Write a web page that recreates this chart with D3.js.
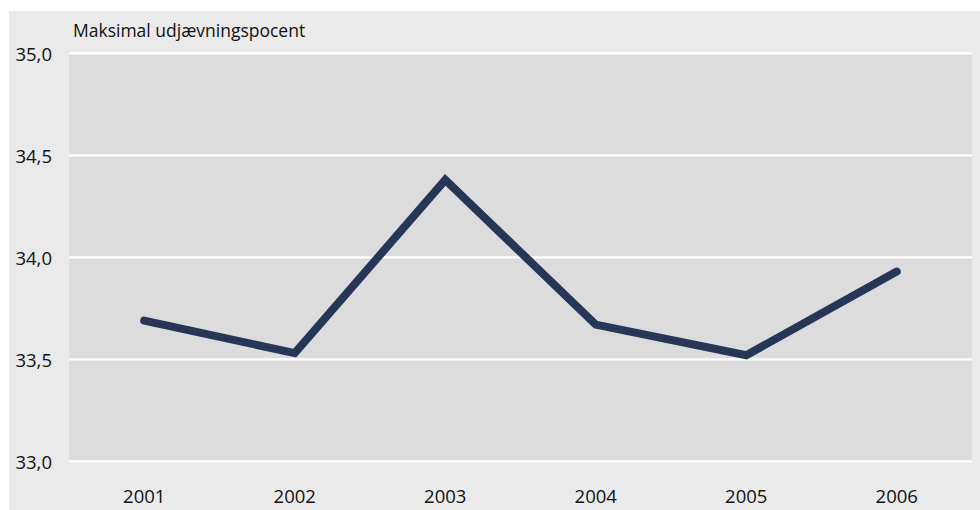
<!DOCTYPE html>
<html>
<head>
<meta charset="utf-8">
<script src="https://cdn.jsdelivr.net/npm/d3@7"></script>
<style>
  html, body { margin: 0; padding: 0; background: #ffffff; }
  svg { display: block; }
</style>
</head>
<body>
<svg id="chart" width="980" height="510"></svg>
<script>
const years = ["2001", "2002", "2003", "2004", "2005", "2006"];
const values = [33.69, 33.53, 34.38, 33.67, 33.52, 33.93];
const yTicks = [33.0, 33.5, 34.0, 34.5, 35.0];
const title = "Maksimal udjævningspocent";

const svg = d3.select("#chart");
const W = 980, H = 510;
const plot = { left: 69, right: 972, top: 53.3, bottom: 461.3 };

svg.append("rect").attr("x", 9).attr("y", 11).attr("width", W - 9).attr("height", H - 11)
  .attr("fill", "#eaeaea");

svg.append("rect").attr("x", plot.left).attr("y", plot.top)
  .attr("width", plot.right - plot.left).attr("height", plot.bottom - plot.top)
  .attr("fill", "#dcdcdc");

const x = d3.scaleBand().domain(years).range([plot.left, plot.right]).padding(0);
const y = d3.scaleLinear().domain([33, 35]).range([plot.bottom, plot.top]);

const font = "'Open Sans', 'Noto Sans', sans-serif";
const fmt = d => d3.format(".1f")(d).replace(".", ",");

// grid lines
svg.append("g").selectAll("line").data(yTicks).join("line")
  .attr("x1", plot.left).attr("x2", plot.right)
  .attr("y1", d => y(d)).attr("y2", d => y(d))
  .attr("stroke", "#ffffff").attr("stroke-width", 2.2);

// y axis
const yAxis = d3.axisLeft(y).tickValues(yTicks).tickFormat(fmt).tickSize(0).tickPadding(0);
const gy = svg.append("g").attr("transform", "translate(52,0)").call(yAxis);
gy.select(".domain").remove();
gy.selectAll("text")
  .attr("font-family", font).attr("font-size", 18.5).attr("fill", "#111")
  .attr("dy", "0.4em");

// x axis
const xAxis = d3.axisBottom(x).tickSize(0).tickPadding(0);
const gx = svg.append("g").attr("transform", "translate(0,486)").call(xAxis);
gx.select(".domain").remove();
gx.selectAll("text")
  .attr("font-family", font).attr("font-size", 18.5).attr("fill", "#111")
  .attr("y", 16.5).attr("dy", 0);

// title
svg.append("text").attr("x", 73).attr("y", 37)
  .attr("font-family", font).attr("font-size", 17.5)
  .attr("fill", "#111").text(title);

// line
const line = d3.line()
  .x((d, i) => x(years[i]) + x.bandwidth() / 2)
  .y(d => y(d));

svg.append("path").datum(values)
  .attr("d", line)
  .attr("fill", "none")
  .attr("stroke", "#253657")
  .attr("stroke-width", 8)
  .attr("stroke-linecap", "round")
  .attr("stroke-linejoin", "miter");
</script>
</body>
</html>
